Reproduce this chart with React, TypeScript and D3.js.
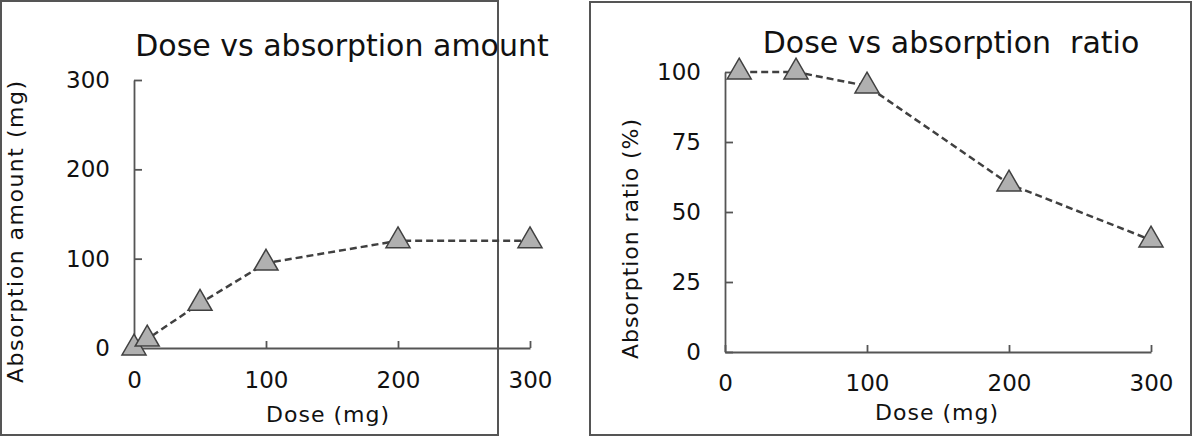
import * as d3 from "d3";
import { useEffect, useRef } from "react";

// Left chart: dose vs absorption amount
const doseAmount = [0, 10, 50, 100, 200, 300];
const absorptionAmount = [0, 10, 50, 95, 120, 120];
// Right chart: dose vs absorption ratio
const doseRatio = [10, 50, 100, 200, 300];
const absorptionRatio = [100, 100, 95, 60, 40];

const doseTicks = [0, 100, 200, 300];
const amountTicks = [0, 100, 200, 300];
const ratioTicks = [0, 25, 50, 75, 100];

const FONT = "'DejaVu Sans', sans-serif";

interface PanelConfig {
  box: [number, number, number, number];
  title: string;
  titleX: number;
  titleY: number;
  xLabel: string;
  xLabelX: number;
  xLabelY: number;
  yLabel: string;
  yLabelX: number;
  yLabelY: number;
  yLabelLen: number;
  xRange: [number, number];
  yRange: [number, number];
  yMax: number;
  yTicks: number[];
  xs: number[];
  ys: number[];
  xTickPad: number;
}

function drawPanel(
  svg: d3.Selection<SVGSVGElement, unknown, null, undefined>,
  c: PanelConfig,
) {
  const g = svg.append("g");

  // frame
  g.append("rect")
    .attr("x", c.box[0])
    .attr("y", c.box[1])
    .attr("width", c.box[2])
    .attr("height", c.box[3])
    .attr("fill", "white")
    .attr("stroke", "#555")
    .attr("stroke-width", 2);

  const x = d3.scaleLinear().domain([0, 300]).range(c.xRange);
  const y = d3.scaleLinear().domain([0, c.yMax]).range(c.yRange);

  // axes, ticks pointing inward
  const xAxis = g
    .append("g")
    .attr("transform", `translate(0,${c.yRange[0]})`)
    .call(
      d3
        .axisBottom(x)
        .tickValues(doseTicks)
        .tickSizeInner(-7)
        .tickSizeOuter(0)
        .tickPadding(c.xTickPad),
    );

  const yAxis = g
    .append("g")
    .attr("transform", `translate(${c.xRange[0]},0)`)
    .call(
      d3
        .axisLeft(y)
        .tickValues(c.yTicks)
        .tickSizeInner(-8)
        .tickSizeOuter(0)
        .tickPadding(24),
    );

  [xAxis, yAxis].forEach((a) => {
    a.selectAll(".domain, .tick line")
      .attr("stroke", "#555")
      .attr("stroke-width", 1.8);
    a.selectAll("text")
      .style("font-family", FONT)
      .style("font-size", "23px")
      .style("fill", "#111");
  });

  // dashed line
  const pts = c.xs.map((d, i) => [x(d), y(c.ys[i])] as [number, number]);
  g.append("path")
    .attr("d", d3.line()(pts))
    .attr("fill", "none")
    .attr("stroke", "#404040")
    .attr("stroke-width", 2.5)
    .attr("stroke-dasharray", "7,4");

  // triangle markers
  const tri = d3.symbol().type(d3.symbolTriangle).size(250);
  g.selectAll(".marker")
    .data(pts)
    .enter()
    .append("path")
    .attr("class", "marker")
    .attr("transform", (d) => `translate(${d[0]},${d[1]})`)
    .attr("d", tri())
    .attr("fill", "#b0b0b0")
    .attr("stroke", "#404040")
    .attr("stroke-width", 1.5);

  // title
  g.append("text")
    .attr("x", c.titleX)
    .attr("y", c.titleY)
    .attr("text-anchor", "middle")
    .style("font-family", FONT)
    .style("font-size", "30px")
    .style("fill", "#111")
    .style("white-space", "pre")
    .text(c.title);

  // axis labels
  g.append("text")
    .attr("x", c.xLabelX)
    .attr("y", c.xLabelY)
    .attr("text-anchor", "middle")
    .style("font-family", FONT)
    .style("font-size", "22px")
    .style("letter-spacing", "1px")
    .style("fill", "#111")
    .text(c.xLabel);

  g.append("text")
    .attr("transform", `translate(${c.yLabelX},${c.yLabelY}) rotate(-90)`)
    .attr("text-anchor", "middle")
    .attr("dy", "0.35em")
    .attr("textLength", c.yLabelLen)
    .attr("lengthAdjust", "spacing")
    .style("font-family", FONT)
    .style("font-size", "22px")
    .style("fill", "#111")
    .text(c.yLabel);
}

export default function App() {
  const svgRef = useRef<SVGSVGElement>(null);

  useEffect(() => {
    document.body.style.margin = "0";
    if (!svgRef.current) return;
    const svg = d3.select(svgRef.current);
    svg.selectAll("*").remove();

    drawPanel(svg, {
      box: [1, 1, 497, 434],
      title: "Dose vs absorption amount",
      titleX: 342,
      titleY: 56,
      xLabel: "Dose (mg)",
      xLabelX: 328,
      xLabelY: 422,
      yLabel: "Absorption amount (mg)",
      yLabelX: 15,
      yLabelY: 232,
      yLabelLen: 302,
      xRange: [134, 530],
      yRange: [348, 80],
      yMax: 300,
      yTicks: amountTicks,
      xs: doseAmount,
      ys: absorptionAmount,
      xTickPad: 24,
    });

    drawPanel(svg, {
      box: [590, 2, 601, 433],
      title: "Dose vs absorption  ratio",
      titleX: 951,
      titleY: 53,
      xLabel: "Dose (mg)",
      xLabelX: 937,
      xLabelY: 420,
      yLabel: "Absorption ratio (%)",
      yLabelX: 630,
      yLabelY: 239,
      yLabelLen: 240,
      xRange: [725, 1151],
      yRange: [352, 72],
      yMax: 100,
      yTicks: ratioTicks,
      xs: doseRatio,
      ys: absorptionRatio,
      xTickPad: 23,
    });
  }, []);

  return (
    <svg
      ref={svgRef}
      width={1195}
      height={438}
      style={{ display: "block", background: "white" }}
    />
  );
}
